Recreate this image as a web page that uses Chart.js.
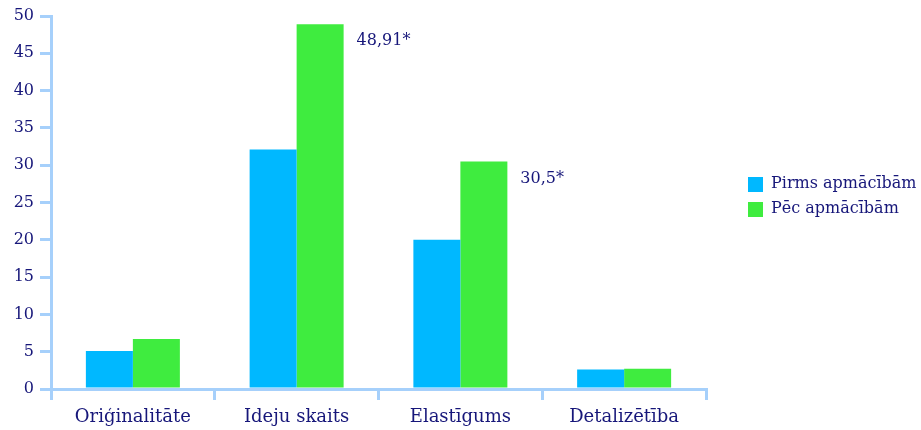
<!DOCTYPE html>
<html>
<head>
<meta charset="utf-8">
<script src="https://cdn.jsdelivr.net/npm/chart.js@4"></script>
<style>
  html, body { margin: 0; padding: 0; background: #ffffff; }
  #wrap { width: 921px; height: 430px; }
</style>
</head>
<body>
<div id="wrap"><canvas id="c" width="921" height="430"></canvas></div>
<script>
// Creativity indicators before and after the training
const categories = ['Oriģinalitāte', 'Ideju skaits', 'Elastīgums', 'Detalizētība'];
const seriesNames = ['Pirms apmācībām', 'Pēc apmācībām'];
const before = [5.1, 32.1, 20.0, 2.6];
const after = [6.7, 48.91, 30.5, 2.7];
// significance markers for the "after" values
const significance = ['', '*', '*', ''];
const yTicks = [0, 5, 10, 15, 20, 25, 30, 35, 40, 45, 50];

const TEXT = '#17177a';
const AXIS = '#a6d0fb';
const BLUE = '#00b8ff';
const GREEN = '#3fec3f';
const FONT = 'DejaVu Serif';

// value labels beside significant bars
const valueLabels = {
  id: 'valueLabels',
  afterDatasetsDraw(chart) {
    const ctx = chart.ctx;
    const meta = chart.getDatasetMeta(1);
    ctx.save();
    ctx.font = '16px "' + FONT + '"';
    ctx.fillStyle = TEXT;
    ctx.textAlign = 'left';
    ctx.textBaseline = 'middle';
    meta.data.forEach((bar, i) => {
      if (!significance[i]) return;
      const txt = String(after[i]).replace('.', ',') + significance[i];
      ctx.fillText(txt, bar.x + bar.width / 2 + 13, bar.y + 17);
    });
    ctx.restore();
  }
};

// legend to the right of the plot
const sideLegend = {
  id: 'sideLegend',
  afterDraw(chart) {
    const ctx = chart.ctx;
    ctx.save();
    ctx.font = '16px "' + FONT + '"';
    ctx.textBaseline = 'middle';
    ctx.textAlign = 'left';
    chart.data.datasets.forEach((ds, i) => {
      const y = 184 + i * 25;
      ctx.fillStyle = ds.backgroundColor;
      ctx.fillRect(748, y - 7, 15, 15);
      ctx.fillStyle = TEXT;
      ctx.fillText(ds.label, 771, y);
    });
    ctx.restore();
  }
};

new Chart(document.getElementById('c'), {
  type: 'bar',
  data: {
    labels: categories,
    datasets: [
      { label: seriesNames[0], data: before, backgroundColor: BLUE },
      { label: seriesNames[1], data: after, backgroundColor: GREEN }
    ]
  },
  options: {
    responsive: false,
    animation: false,
    layout: { padding: { left: 0, right: 215, top: 16, bottom: 0 } },
    plugins: {
      legend: { display: false },
      tooltip: { enabled: false }
    },
    datasets: {
      bar: { categoryPercentage: 0.574, barPercentage: 1.0 }
    },
    scales: {
      x: {
        offset: true,
        grid: {
          offset: true,
          drawOnChartArea: false,
          drawTicks: true,
          tickLength: 11,
          color: AXIS,
          lineWidth: 3
        },
        border: { display: true, color: AXIS, width: 3 },
        ticks: {
          color: TEXT,
          font: { family: FONT, size: 18 },
          padding: 7,
          maxRotation: 0
        },
        afterFit(scale) { scale.height = 41; }
      },
      y: {
        min: 0,
        max: 50,
        afterBuildTicks(scale) { scale.ticks = yTicks.map(v => ({ value: v })); },
        grid: {
          drawOnChartArea: false,
          drawTicks: true,
          tickLength: 11,
          color: AXIS,
          lineWidth: 3
        },
        border: { display: true, color: AXIS, width: 3 },
        ticks: {
          color: TEXT,
          font: { family: FONT, size: 16 },
          padding: 6
        },
        afterFit(scale) { scale.width = 51; }
      }
    }
  },
  plugins: [valueLabels, sideLegend]
});
</script>
</body>
</html>
